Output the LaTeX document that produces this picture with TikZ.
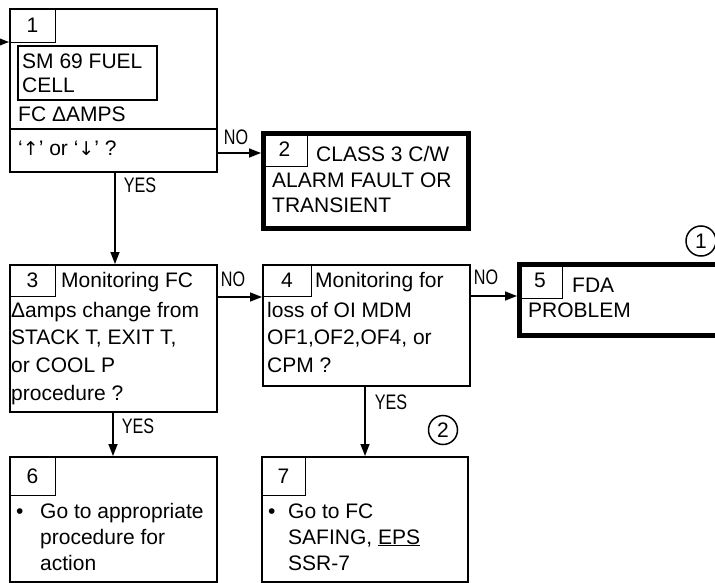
\documentclass[tikz,border=0pt]{standalone}
\usepackage{fontspec}
\setmainfont{Liberation Sans}
\newfontfamily\arrowfont{DejaVu Sans}
\usetikzlibrary{arrows.meta,positioning}
\newcommand\fcfont{\fontsize{21}{26}\selectfont}

\begin{document}
\begin{tikzpicture}[x=1pt, y=-1pt, >={Triangle[length=12pt,width=9pt]},
  every node/.style={font=\fcfont, inner sep=0pt},
  box/.style={draw, line width=2pt, anchor=north west},
  bigbox/.style={draw, line width=5pt, anchor=north west},
  tab/.style={draw, line width=1pt, anchor=north west, minimum width=46pt},
  txt/.style={anchor=base west},
  lbl/.style={anchor=base, xscale=0.77},
  link/.style={->, line width=1.5pt}]
  \clip (0,0) rectangle (715,583);

  % decision and action boxes
  \node[box, minimum width=207pt, minimum height=163pt] (b1) at (9,8) {};
  \node[bigbox, minimum width=205pt, minimum height=95pt] (b2) at (261,131) {};
  \node[box, minimum width=207pt, minimum height=147pt] (b3) at (9,264) {};
  \node[box, minimum width=207pt, minimum height=121pt] (b4) at (262,264) {};
  \node[bigbox, minimum width=220pt, minimum height=71pt] (b5) at (517,262) {};
  \node[box, minimum width=207pt, minimum height=125pt] (b6) at (9,456) {};
  \node[box, minimum width=206pt, minimum height=125pt] (b7) at (261,456) {};

  % number tabs
  \node[tab, minimum height=34pt] (n1) at (b1.north west) {1};
  \node[tab, minimum height=35pt] (n2) at (b2.north west) {2};
  \node[tab, minimum height=32pt] (n3) at (b3.north west) {3};
  \node[tab, minimum width=49pt, minimum height=32pt] (n4) at (b4.north west) {4};
  \node[tab, minimum width=45pt, minimum height=36pt] (n5) at (b5.north west) {5};
  \node[tab, minimum height=39pt] (n6) at (b6.north west) {6};
  \node[tab, minimum width=44pt, minimum height=39pt] (n7) at (b7.north west) {7};

  % box 1
  \node[box, minimum width=139pt, minimum height=54pt] (sm) at (17,45) {};
  \node[txt] (t1a) at (22,69) {SM 69 FUEL};
  \node[txt] (t1b) at (22,93) {CELL};
  \node[txt] (t1c) at (18,122) {FC ΔAMPS};
  \draw[line width=2pt] (b1.west |- 0,129) -- (b1.east |- 0,129);
  \node[txt] (t1d) at (18,156) {‘{\arrowfont\fontsize{19}{22}\selectfont ↑}’ or ‘{\arrowfont\fontsize{19}{22}\selectfont ↓}’ ?};

  % box 2
  \node[txt] (t2a) at (316,161) {CLASS 3 C/W};
  \node[txt] (t2b) at (272,187) {ALARM FAULT OR};
  \node[txt] (t2c) at (272,212) {TRANSIENT};

  % box 3
  \node[txt] (t3a) at (61,287) {Monitoring FC};
  \foreach \ty/\tx [count=\i] in {317/Δamps change from, 344/{STACK T, EXIT T,},
      372/or COOL P, 400/procedure ?}
    \node[txt] (t3-\i) at (11,\ty) {\tx};

  % box 4
  \node[txt] (t4a) at (315,287) {Monitoring for};
  \foreach \ty/\tx [count=\i] in {317/loss of OI MDM, 344/{OF1,OF2,OF4, or}, 372/CPM ?}
    \node[txt] (t4-\i) at (267,\ty) {\tx};

  % box 5
  \node[txt] (t5a) at (572,292) {FDA};
  \node[txt] (t5b) at (528,317) {PROBLEM};

  % box 6
  \node[txt] (d6) at (16,518) {•};
  \foreach \ty/\tx [count=\i] in {518/Go to appropriate, 544/procedure for, 570/action}
    \node[txt] (t6-\i) at (40,\ty) {\tx};

  % box 7
  \node[txt] (d7) at (268,518) {•};
  \foreach \ty/\tx [count=\i] in {518/Go to FC, 544/{SAFING, \underline{EPS}}, 570/SSR-7}
    \node[txt] (t7-\i) at (288,\ty) {\tx};

  % notes
  \node[draw, circle, line width=1.5pt, minimum size=30pt] (c1) at (701,241) {1};
  \node[draw, circle, line width=1.5pt, minimum size=29pt] (c2) at (443,430) {2};

  % flow
  \coordinate (entry) at (0,42);
  \draw[link] (entry) -- (entry -| b1.west);
  \draw[link] (b1.east |- 0,153) -- (b2.west |- 0,153);
  \node[lbl] (no1) at (236,145) {NO};
  \draw[link] (b1.south -| 115,0) -- (b3.north -| 115,0);
  \node[lbl] (yes1) at (140,193) {YES};
  \draw[link] (b3.east |- 0,297) -- (b4.west |- 0,297);
  \node[lbl] (no2) at (233,286) {NO};
  \draw[link] (b4.east |- 0,296) -- (b5.west |- 0,296);
  \node[lbl] (no3) at (486,284) {NO};
  \draw[link] (b3.south -| 113,0) -- (b6.north -| 113,0);
  \node[lbl] (yes2) at (138,433) {YES};
  \draw[link] (b4.south -| 365,0) -- (b7.north -| 365,0);
  \node[lbl] (yes3) at (391,409) {YES};
\end{tikzpicture}
\end{document}
